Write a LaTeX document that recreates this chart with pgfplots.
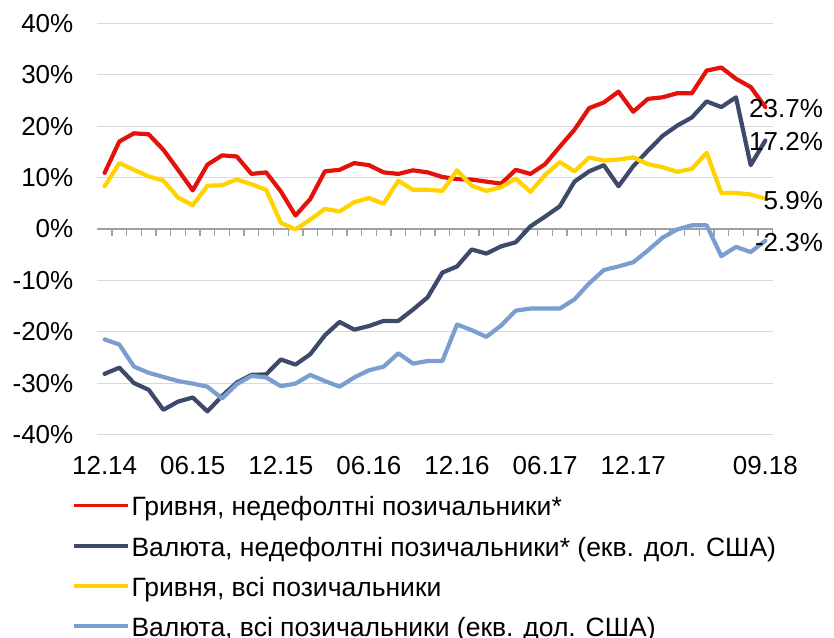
\documentclass[border=0pt]{standalone}
\usepackage{pgfplots}
\pgfplotsset{compat=1.18}
\usepackage{pgfplotstable}
\usepackage{fontspec}
\setmainfont{Liberation Sans}
\newcommand\fs{\fontsize{26bp}{31bp}\selectfont}
\newcommand\lfs{\fontsize{26.5bp}{31bp}\selectfont}
\definecolor{cred}{HTML}{E3120B}
\definecolor{cnavy}{HTML}{3D4A6B}
\definecolor{cyel}{HTML}{FFD200}
\definecolor{clb}{HTML}{7B9ED0}
\definecolor{cgrid}{HTML}{D9D9D9}
\definecolor{caxis}{HTML}{A0A0A0}
\pgfplotstableread{
i red navy yel lb
0 10.9 -28.2 8.3 -21.5
1 17.0 -27.0 12.8 -22.5
2 18.6 -30.0 11.5 -26.8
3 18.4 -31.3 10.2 -28.0
4 15.4 -35.2 9.4 -28.8
5 11.5 -33.6 6.1 -29.6
6 7.5 -32.8 4.6 -30.1
7 12.5 -35.5 8.4 -30.7
8 14.3 -32.5 8.5 -33.0
9 14.1 -29.9 9.6 -30.2
10 10.7 -28.4 8.7 -28.6
11 11.0 -28.3 7.6 -28.9
12 7.3 -25.4 1.2 -30.6
13 2.6 -26.4 -0.1 -30.1
14 5.8 -24.4 1.8 -28.4
15 11.2 -20.7 3.9 -29.6
16 11.5 -18.1 3.4 -30.7
17 12.8 -19.6 5.2 -28.9
18 12.4 -18.9 6.0 -27.5
19 11.0 -17.9 4.9 -26.8
20 10.7 -17.9 9.4 -24.2
21 11.4 -15.7 7.6 -26.2
22 11.0 -13.3 7.6 -25.7
23 10.1 -8.5 7.4 -25.7
24 9.7 -7.3 11.4 -18.6
25 9.6 -4.0 8.4 -19.7
26 9.2 -4.8 7.4 -21.0
27 8.8 -3.4 8.1 -18.8
28 11.5 -2.6 9.8 -15.9
29 10.7 0.5 7.2 -15.5
30 12.6 2.4 10.5 -15.5
31 16.0 4.4 13.0 -15.5
32 19.3 9.2 11.2 -13.7
33 23.5 11.2 13.9 -10.6
34 24.6 12.4 13.3 -8.0
35 26.7 8.3 13.5 -7.3
36 22.8 12.2 13.9 -6.5
37 25.3 15.2 12.6 -4.2
38 25.6 18.1 12.0 -1.7
39 26.4 20.1 11.1 -0.1
40 26.4 21.7 11.7 0.7
41 30.8 24.8 14.8 0.7
42 31.4 23.7 7.0 -5.3
43 29.2 25.6 7.0 -3.5
44 27.6 12.4 6.7 -4.5
45 23.7 17.2 5.9 -2.3
}\data
\begin{document}
\begin{tikzpicture}[font=\fs]
\path[use as bounding box] (0,0) rectangle (834bp,638bp);
\begin{axis}[
  at={(97.3bp,203.5bp)}, anchor=south west, scale only axis,
  width=675.4bp, height=411.2bp,
  xmin=-0.5, xmax=45.5, ymin=-40, ymax=40,
  clip=false,
  axis x line*=middle, axis y line*=left,
  y axis line style={draw=none},
  x axis line style={draw=caxis, line width=1.5bp, -},
  xtick={-0.5,0.5,...,45.5}, xticklabel={\relax},
  xtick style={draw=caxis, line width=1.3bp},
  tick align=outside, major tick length=7.5bp,
  ytick={-40,-30,...,40}, yticklabel={\relax}, ytick style={draw=none},
  ymajorgrids, grid style={draw=cgrid, line width=1.2bp},
  legend style={at={(axis description cs:-0.0364,-0.1445)}, anchor=north west,
    draw=none, fill=none, inner sep=0pt, outer sep=0pt,
    row sep=16.6bp, column sep=1.3bp, font=\lfs, nodes={inner sep=0pt}},
  legend cell align=left,
  legend image code/.code={\draw[#1, line width=3.5bp, line cap=butt] (0bp,0bp) -- (54bp,0bp);},
  every axis plot/.append style={line width=4.2bp, line join=round, line cap=round, no markers},
]
\addplot[color=cred] table[x=i,y=red]{\data}
  node[pos=1, anchor=east, xshift=63bp, yshift=-1.5bp, text=black, font=\fs]{23.7\%};
\addlegendentry{\rule[-5.4bp]{0pt}{27.4bp}Гривня, недефолтні позичальники*}
\addplot[color=cnavy] table[x=i,y=navy]{\data}
  node[pos=1, anchor=east, xshift=63bp, yshift=-1.5bp, text=black, font=\fs]{17.2\%};
\addlegendentry{\rule[-5.4bp]{0pt}{27.4bp}Валюта, недефолтні позичальники* (екв. дол. США)}
\addplot[color=cyel] table[x=i,y=yel]{\data}
  node[pos=1, anchor=east, xshift=63bp, yshift=-1.5bp, text=black, font=\fs]{5.9\%};
\addlegendentry{\rule[-5.4bp]{0pt}{27.4bp}Гривня, всі позичальники}
\addplot[color=clb] table[x=i,y=lb]{\data}
  node[pos=1, anchor=east, xshift=63bp, yshift=-1.5bp, text=black, font=\fs]{-2.3\%};
\addlegendentry{\rule[-5.4bp]{0pt}{27.4bp}Валюта, всі позичальники (екв. дол. США)}
\end{axis}
\begin{axis}[
  at={(97.3bp,203.5bp)}, anchor=south west, scale only axis,
  width=675.4bp, height=411.2bp,
  xmin=-0.5, xmax=45.5, ymin=-40, ymax=40,
  axis line style={draw=none}, tick style={draw=none},
  xtick={0,6,12,18,24,30,36,45},
  xticklabels={12.14,06.15,12.15,06.16,12.16,06.17,12.17,09.18},
  ytick={-40,-30,...,40},
  yticklabels={-40\%,-30\%,-20\%,-10\%,0\%,10\%,20\%,30\%,40\%},
  xticklabel style={anchor=north, inner sep=0pt, yshift=-21.7bp, font=\fs},
  yticklabel style={anchor=east, inner sep=0pt, xshift=-23.8bp, font=\fs},
]
\end{axis}
\end{tikzpicture}
\end{document}
